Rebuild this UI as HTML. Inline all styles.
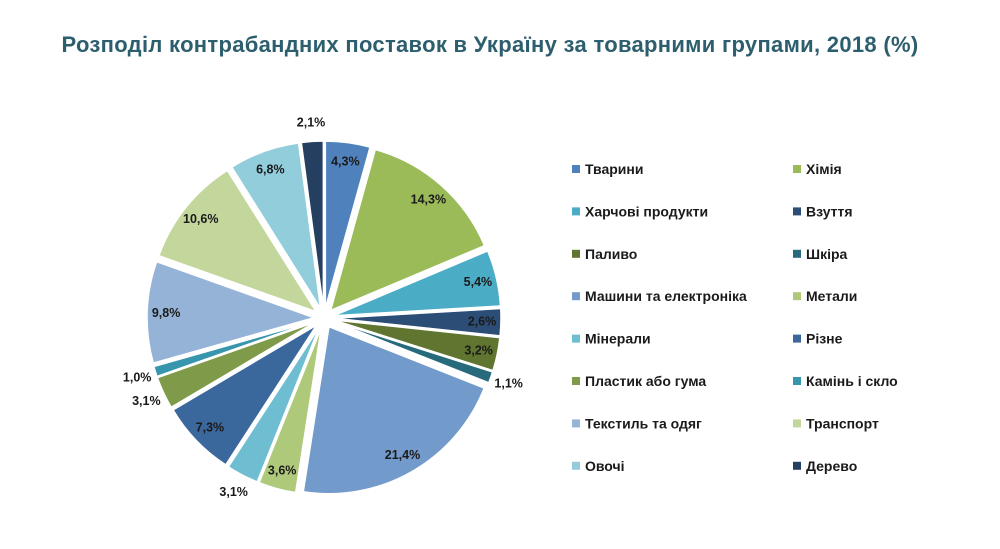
<!DOCTYPE html>
<html><head><meta charset="utf-8"><style>
html,body{margin:0;padding:0;background:#fff;}
body{width:1000px;height:549px;overflow:hidden;position:relative;font-family:"Liberation Sans",sans-serif;}
#title{position:absolute;left:0;width:980px;top:32px;text-align:center;font-size:22px;font-weight:bold;color:#2d5e6e;letter-spacing:0.3px;}
svg{position:absolute;left:0;top:0;}
</style></head><body>
<div id="title">Розподіл контрабандних поставок в Україну за товарними групами, 2018 (%)</div>
<svg id="chart" width="1000" height="549"></svg>
<script>
const categories=["Тварини","Хімія","Харчові продукти","Взуття","Паливо","Шкіра","Машини та електроніка","Метали","Мінерали","Різне","Пластик або гума","Камінь і скло","Текстиль та одяг","Транспорт","Овочі","Дерево"];
const values=[4.3,14.3,5.4,2.6,3.2,1.1,21.4,3.6,3.1,7.3,3.1,1.0,9.8,10.6,6.8,2.1];
const labels=["4,3%","14,3%","5,4%","2,6%","3,2%","1,1%","21,4%","3,6%","3,1%","7,3%","3,1%","1,0%","9,8%","10,6%","6,8%","2,1%"];
const outside=[false,false,false,false,false,true,false,false,true,false,true,true,false,false,false,true];
const colors=["#4f81bd","#9bbb59","#4bacc6","#2c4d75","#5f7530","#276a7c","#729aca","#afc97a","#6fbdd1","#3a679c","#7f9a48","#3795ad","#95b3d7","#c3d69b","#92cddc","#243f60"];
const NS="http://www.w3.org/2000/svg";
const svg=document.getElementById('chart');
const cx=324,cy=318,R=167,off=10;
const total=values.reduce((a,b)=>a+b,0);
function pt(r,a){return [cx+r*Math.sin(a),cy-r*Math.cos(a)];}
let acc=0;
values.forEach((v,i)=>{
  const a0=acc/total*2*Math.PI; acc+=v; const a1=acc/total*2*Math.PI; const am=(a0+a1)/2;
  const dx=off*Math.sin(am),dy=-off*Math.cos(am);
  const p0=pt(R,a0),p1=pt(R,a1);
  const large=(a1-a0)>Math.PI?1:0;
  const p=document.createElementNS(NS,'path');
  p.setAttribute('d',`M${cx+dx},${cy+dy} L${p0[0]+dx},${p0[1]+dy} A${R},${R} 0 ${large} 1 ${p1[0]+dx},${p1[1]+dy} Z`);
  p.setAttribute('fill',colors[i]);
  p.setAttribute('stroke','#fff');p.setAttribute('stroke-width','1.5');
  
  
  svg.appendChild(p);
  const lr=outside[i]?196:158;
  const lp=pt(lr,am);
  const t=document.createElementNS(NS,'text');
  t.setAttribute('x',lp[0]);t.setAttribute('y',lp[1]+4);
  t.setAttribute('text-anchor','middle');t.setAttribute('font-size','12.5');t.setAttribute('font-weight','bold');
  t.setAttribute('fill','#1a1a1a');t.setAttribute('font-family','Liberation Sans, sans-serif');
  t.textContent=labels[i];
  
  
  svg.appendChild(t);
});
categories.forEach((c,i)=>{
  const col=i%2,row=Math.floor(i/2);
  const x=col?793:572,y=169+row*42.4;
  const g=document.createElementNS(NS,'g');
  
  
  const r=document.createElementNS(NS,'rect');
  r.setAttribute('x',x);r.setAttribute('y',y-4);r.setAttribute('width',8);r.setAttribute('height',8);r.setAttribute('fill',colors[i]);
  g.appendChild(r);
  const t=document.createElementNS(NS,'text');
  t.setAttribute('x',x+13);t.setAttribute('y',y+5);t.setAttribute('font-size','14');t.setAttribute('font-weight','bold');
  t.setAttribute('fill','#1a1a1a');t.setAttribute('font-family','Liberation Sans, sans-serif');
  t.textContent=c;
  g.appendChild(t);
  svg.appendChild(g);
});
</script>
</body></html>
